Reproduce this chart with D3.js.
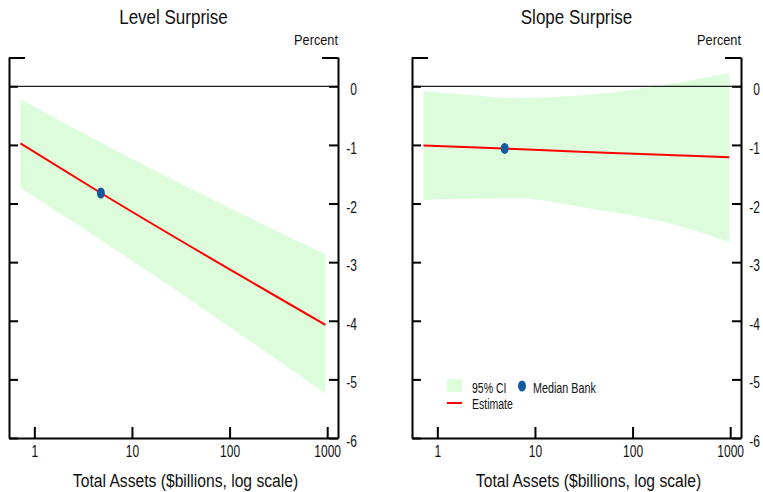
<!DOCTYPE html>
<html lang="en">
<head>
    <meta charset="UTF-8">
    <title>Level and Slope Surprise by Bank Size</title>
    <script src="https://d3js.org/d3.v7.min.js"></script>
    <style>
        body {
            margin: 0;
            padding: 0;
            background: #fff;
        }
        svg text {
            font-family: "Liberation Sans", Arial, sans-serif;
            fill: #111;
        }
        .axis path, .axis line {
            stroke: #000;
            stroke-width: 2;
        }
    </style>
</head>
<body>
    <svg id="chart" width="763" height="492"></svg>

    <script>
        // tick values
        const xTicks = [1, 10, 100, 1000];
        const yTicks = [0, -1, -2, -3, -4, -5, -6];

        // Level surprise panel (total assets in $billions, effect in percent)
        const levelAssets = [0.72, 4.8, 960];
        const levelEstimate = [-0.975, -1.82, -4.07];
        const levelUpper = [-0.22, -0.96, -2.87];
        const levelLower = [-1.73, -2.62, -5.24];
        const levelMedian = [4.8, -1.82];

        // Slope surprise panel
        const slopeAssets = [0.72, 2.2, 6.3, 33, 315, 980];
        const slopeEstimate = [-1.01, -1.04, -1.07, -1.12, -1.18, -1.21];
        const slopeUpper = [-0.08, -0.15, -0.20, -0.15, 0.07, 0.23];
        const slopeLower = [-1.94, -1.92, -1.91, -2.07, -2.39, -2.66];
        const slopeMedian = [4.9, -1.06];

        const panels = [
            { title: "Level Surprise", left: 9, assets: levelAssets, est: levelEstimate,
              upper: levelUpper, lower: levelLower, median: levelMedian, legend: false },
            { title: "Slope Surprise", left: 412, assets: slopeAssets, est: slopeEstimate,
              upper: slopeUpper, lower: slopeLower, median: slopeMedian, legend: true }
        ];

        const marginTop = 57, width = 329, height = 381;
        const ciColor = "#dcfcdc", lineColor = "#ff0000", dotColor = "#17599e";

        const svg = d3.select("#chart");

        // narrow text helper: the reference font is condensed
        function label(g, x, y, str, size, sx, anchor) {
            return g.append("text")
                .attr("transform", `translate(${x},${y}) scale(${sx},1)`)
                .attr("text-anchor", anchor || "start")
                .style("font-size", size + "px")
                .text(str);
        }

        const x = d3.scaleLog().domain([0.55, 1290]).range([0, width]);
        const y = d3.scaleLinear().domain([-6, 0.5]).range([height, 0]);

        panels.forEach(function(p) {
            const g = svg.append("g").attr("transform", `translate(${p.left},${marginTop})`);
            const rows = p.assets.map((a, i) => ({ a: a, est: p.est[i] }));
            const ci = p.assets.map((a, i) => ({ a: a, hi: p.upper[i], lo: p.lower[i] }));

            // confidence band
            g.append("path")
                .datum(ci)
                .attr("fill", ciColor)
                .attr("d", d3.area()
                    .curve(d3.curveMonotoneX)
                    .x(d => x(d.a))
                    .y0(d => y(d.lo))
                    .y1(d => y(d.hi)));

            // zero line
            g.append("line")
                .attr("x1", 0).attr("x2", width)
                .attr("y1", y(0)).attr("y2", y(0))
                .attr("stroke", "#222")
                .attr("stroke-width", 1.3);

            // estimate
            g.append("path")
                .datum(rows)
                .attr("fill", "none")
                .attr("stroke", lineColor)
                .attr("stroke-width", 2)
                .attr("d", d3.line()
                    .curve(d3.curveMonotoneX)
                    .x(d => x(d.a))
                    .y(d => y(d.est)));

            // median bank
            g.append("ellipse")
                .attr("cx", x(p.median[0]))
                .attr("cy", y(p.median[1]))
                .attr("rx", 4)
                .attr("ry", 5.5)
                .attr("fill", dotColor);

            // left axis, ticks inward
            g.append("g")
                .attr("class", "axis")
                .call(d3.axisLeft(y).tickValues(yTicks).tickSize(-9).tickSizeOuter(0).tickFormat(""));

            // right axis with labels
            const ra = g.append("g")
                .attr("class", "axis")
                .attr("transform", `translate(${width},0)`)
                .call(d3.axisRight(y).tickValues(yTicks).tickSize(-9).tickSizeOuter(0)
                    .tickFormat(d => String(d)));
            ra.selectAll(".tick text")
                .attr("x", null).attr("dy", null)
                .attr("text-anchor", "end")
                .attr("transform", "translate(19,8.5) scale(0.75,1)")
                .style("font-size", "16px")
                .style("font-family", "'Liberation Sans', Arial, sans-serif")
                .attr("fill", "#111");

            // bottom axis, ticks pointing up
            const ba = g.append("g")
                .attr("class", "axis")
                .attr("transform", `translate(0,${height})`)
                .call(d3.axisBottom(x).tickValues(xTicks).tickSize(-11).tickSizeOuter(0)
                    .tickFormat(d => String(d)));
            ba.selectAll(".tick text")
                .attr("y", null).attr("dy", null)
                .attr("text-anchor", "middle")
                .attr("transform", "translate(0,19) scale(0.75,1)")
                .style("font-size", "16px")
                .style("font-family", "'Liberation Sans', Arial, sans-serif")
                .attr("fill", "#111");

            // top brackets
            g.append("path")
                .attr("fill", "none")
                .attr("stroke", "#000")
                .attr("stroke-width", 2)
                .attr("d", `M0,${y(0.5) + 1}H16M${width - 16},${y(0.5) + 1}H${width}`);

            // titles
            label(svg, p.left + width / 2, 24, p.title, 20, 0.85, "middle");
            label(svg, p.left + width, 45, "Percent", 15, 0.85, "end");
            label(svg, p.left + width / 2 + 12, 487, "Total Assets ($billions, log scale)", 18, 0.87, "middle");

            if (p.legend) {
                const lg = svg.append("g");
                lg.append("rect")
                    .attr("x", 447).attr("y", 379)
                    .attr("width", 15).attr("height", 13)
                    .attr("fill", ciColor);
                label(lg, 472, 393, "95% CI", 14, 0.75);
                lg.append("ellipse")
                    .attr("cx", 522).attr("cy", 386)
                    .attr("rx", 4).attr("ry", 5.5)
                    .attr("fill", dotColor);
                label(lg, 533, 393, "Median Bank", 14, 0.77);
                lg.append("line")
                    .attr("x1", 447).attr("x2", 462)
                    .attr("y1", 403).attr("y2", 403)
                    .attr("stroke", lineColor)
                    .attr("stroke-width", 2);
                label(lg, 472, 408.5, "Estimate", 14, 0.75);
            }
        });
    </script>
</body>
</html>
